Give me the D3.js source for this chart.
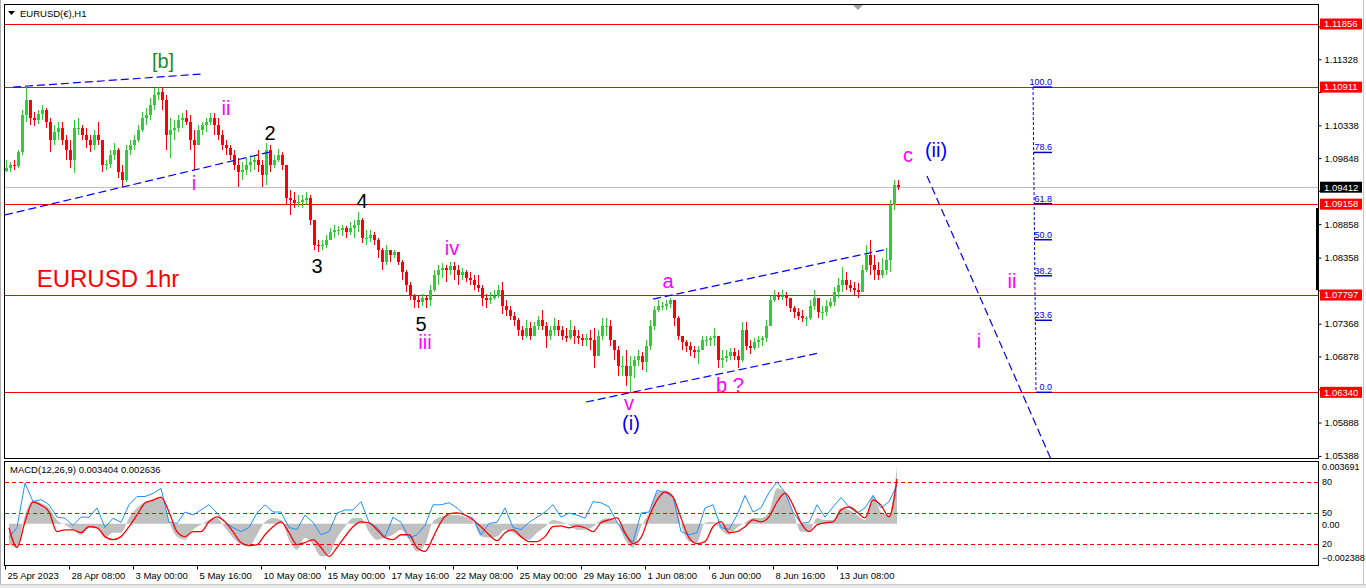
<!DOCTYPE html>
<html><head><meta charset="utf-8">
<script src="https://cdn.jsdelivr.net/npm/d3@7"></script>
<style>
html,body{margin:0;padding:0;background:#fff;overflow:hidden;}
svg{display:block;font-family:"Liberation Sans",Arial,sans-serif;}
</style></head><body>
<svg id="c" width="1366" height="588"></svg>
<script>
// ---------------- DATA ----------------
const symbolTitle = "EURUSD(€),H1";
const macdTitle = "MACD(12,26,9) 0.003404 0.002636";
const chartNote = "EURUSD 1hr";
const barsPerCandle = 4;          // each candle below aggregates 4 H1 bars
const firstOpen = 1.0966;
const highs = [
1.0982,1.0979,1.0982,1.0997,1.1057,1.1091,1.1072,1.1054,1.1057,1.1064,
1.1060,1.1045,1.1034,1.1039,1.1039,1.1019,1.1012,1.1042,1.1045,1.1034,
1.1030,1.1019,1.1027,1.1039,1.0997,1.0982,1.0997,1.1007,1.1000,1.0974,
1.1004,1.1012,1.1019,1.1034,1.1054,1.1060,1.1075,1.1090,1.1091,1.1090,
1.1079,1.1045,1.1042,1.1049,1.1052,1.1057,1.1049,1.1027,1.1034,1.1039,
1.1045,1.1052,1.1052,1.1045,1.1027,1.1012,1.1004,1.0997,1.0985,1.0979,
1.0985,1.0989,1.0989,1.0997,1.0982,1.1007,1.1004,1.0989,1.0998,1.0994,
1.0974,1.0937,1.0934,1.0929,1.0929,1.0934,1.0929,1.0892,1.0862,1.0862,
1.0869,1.0880,1.0884,1.0883,1.0884,1.0883,1.0889,1.0892,1.0904,1.0895,
1.0877,1.0877,1.0874,1.0865,1.0850,1.0854,1.0847,1.0847,1.0844,1.0832,
1.0817,1.0799,1.0782,1.0779,1.0782,1.0779,1.0794,1.0817,1.0824,1.0827,
1.0824,1.0829,1.0829,1.0824,1.0820,1.0817,1.0814,1.0809,1.0809,1.0794,
1.0782,1.0784,1.0787,1.0794,1.0799,1.0772,1.0764,1.0754,1.0745,1.0734,
1.0742,1.0739,1.0739,1.0749,1.0757,1.0739,1.0734,1.0745,1.0742,1.0734,
1.0730,1.0742,1.0734,1.0727,1.0722,1.0722,1.0727,1.0730,1.0727,1.0745,
1.0746,1.0742,1.0712,1.0704,1.0689,1.0697,1.0689,1.0689,1.0697,1.0694,
1.0712,1.0742,1.0764,1.0772,1.0769,1.0772,1.0776,1.0772,1.0749,1.0719,
1.0712,1.0709,1.0704,1.0704,1.0719,1.0719,1.0719,1.0731,1.0712,1.0697,
1.0697,1.0701,1.0700,1.0697,1.0739,1.0739,1.0712,1.0715,1.0718,1.0719,
1.0742,1.0779,1.0787,1.0784,1.0787,1.0784,1.0776,1.0764,1.0760,1.0757,
1.0749,1.0772,1.0787,1.0772,1.0764,1.0772,1.0776,1.0791,1.0805,1.0821,
1.0814,1.0802,1.0799,1.0797,1.0824,1.0854,1.0862,1.0839,1.0829,1.0835,
1.0850,1.0922,1.0952,1.0952];
const lows = [
1.0964,1.0964,1.0967,1.0970,1.0989,1.1039,1.1034,1.1033,1.1036,1.1042,
1.1030,1.0994,1.1004,1.1012,1.1004,1.0982,1.0970,1.0962,1.1019,1.1012,
1.1000,1.0994,1.0997,1.1004,1.0964,1.0967,1.0970,1.0982,1.0955,1.0941,
1.0949,1.0989,1.0997,1.1009,1.1024,1.1034,1.1042,1.1057,1.1072,1.1057,
1.0997,1.0985,1.1012,1.1024,1.1030,1.1034,1.0997,1.0967,1.1004,1.1019,
1.1024,1.1034,1.1019,1.1012,1.0997,1.0989,1.0982,1.0967,1.0941,1.0952,
1.0959,1.0964,1.0967,1.0964,1.0941,1.0944,1.0964,1.0970,1.0979,1.0967,
1.0914,1.0899,1.0910,1.0911,1.0910,1.0914,1.0884,1.0847,1.0844,1.0847,
1.0850,1.0862,1.0865,1.0869,1.0868,1.0865,1.0869,1.0865,1.0874,1.0857,
1.0854,1.0859,1.0854,1.0835,1.0817,1.0824,1.0829,1.0835,1.0824,1.0802,
1.0784,1.0772,1.0760,1.0761,1.0764,1.0760,1.0764,1.0784,1.0794,1.0805,
1.0799,1.0809,1.0802,1.0794,1.0802,1.0799,1.0794,1.0787,1.0784,1.0764,
1.0761,1.0767,1.0772,1.0775,1.0752,1.0749,1.0742,1.0734,1.0719,1.0712,
1.0715,1.0712,1.0719,1.0727,1.0727,1.0701,1.0712,1.0719,1.0719,1.0712,
1.0709,1.0712,1.0707,1.0707,1.0704,1.0704,1.0697,1.0671,1.0689,1.0712,
1.0719,1.0704,1.0682,1.0659,1.0659,1.0644,1.0634,1.0655,1.0674,1.0667,
1.0664,1.0697,1.0727,1.0754,1.0757,1.0757,1.0761,1.0734,1.0712,1.0697,
1.0694,1.0689,1.0685,1.0677,1.0697,1.0704,1.0704,1.0704,1.0671,1.0670,
1.0679,1.0682,1.0682,1.0671,1.0679,1.0697,1.0692,1.0697,1.0700,1.0704,
1.0709,1.0734,1.0769,1.0772,1.0772,1.0764,1.0754,1.0745,1.0742,1.0739,
1.0734,1.0742,1.0757,1.0745,1.0742,1.0749,1.0760,1.0764,1.0775,1.0784,
1.0787,1.0784,1.0779,1.0775,1.0784,1.0814,1.0809,1.0802,1.0802,1.0805,
1.0809,1.0814,1.0907,1.0937];
const closes = [
1.0970,1.0974,1.0973,1.0994,1.1049,1.1072,1.1045,1.1042,1.1051,1.1057,
1.1039,1.1012,1.1024,1.1030,1.1012,1.0997,1.0982,1.1030,1.1030,1.1019,
1.1012,1.1004,1.1019,1.1012,1.0974,1.0976,1.0989,1.0997,1.0964,1.0952,
1.0997,1.1004,1.1012,1.1027,1.1045,1.1049,1.1064,1.1079,1.1084,1.1072,
1.1019,1.1027,1.1030,1.1042,1.1045,1.1039,1.1012,1.1004,1.1027,1.1034,
1.1039,1.1045,1.1034,1.1019,1.1004,1.1000,1.0989,1.0974,1.0964,1.0967,
1.0974,1.0979,1.0982,1.0974,1.0959,1.0997,1.0974,1.0982,1.0989,1.0974,
1.0925,1.0922,1.0917,1.0919,1.0922,1.0925,1.0892,1.0854,1.0853,1.0854,
1.0862,1.0874,1.0877,1.0877,1.0880,1.0874,1.0880,1.0884,1.0892,1.0865,
1.0865,1.0869,1.0862,1.0847,1.0829,1.0847,1.0839,1.0844,1.0829,1.0814,
1.0794,1.0779,1.0772,1.0769,1.0775,1.0772,1.0787,1.0809,1.0817,1.0820,
1.0817,1.0823,1.0817,1.0809,1.0814,1.0805,1.0802,1.0794,1.0790,1.0775,
1.0772,1.0775,1.0779,1.0787,1.0764,1.0757,1.0749,1.0742,1.0727,1.0719,
1.0730,1.0719,1.0734,1.0742,1.0734,1.0719,1.0727,1.0734,1.0727,1.0719,
1.0715,1.0727,1.0719,1.0715,1.0712,1.0715,1.0712,1.0689,1.0719,1.0734,
1.0734,1.0712,1.0697,1.0674,1.0674,1.0659,1.0674,1.0682,1.0689,1.0679,
1.0704,1.0734,1.0757,1.0764,1.0764,1.0767,1.0772,1.0745,1.0719,1.0709,
1.0704,1.0697,1.0694,1.0697,1.0712,1.0712,1.0715,1.0719,1.0682,1.0685,
1.0689,1.0694,1.0689,1.0682,1.0727,1.0704,1.0700,1.0709,1.0712,1.0715,
1.0734,1.0772,1.0779,1.0778,1.0779,1.0775,1.0760,1.0754,1.0749,1.0745,
1.0745,1.0764,1.0775,1.0754,1.0754,1.0764,1.0769,1.0784,1.0794,1.0802,
1.0794,1.0790,1.0787,1.0784,1.0817,1.0839,1.0824,1.0817,1.0809,1.0817,
1.0832,1.0914,1.0944,1.09412];

const barsPerOsc = 8;             // oscillator samples every 8 H1 bars
const macdHist = [
-0.00122,-0.00139,0.00052,0.00139,0.00122,0.00093,0.00023,-0.00006,-0.00035,-0.00064,
-0.00017,-0.00023,-0.00081,-0.00052,-0.00052,0.00035,0.00093,0.00128,0.00139,0.00157,
0.00012,-0.00075,-0.00093,-0.00035,-0.00006,0.00023,0.00035,-0.00023,-0.00081,-0.00122,
-0.00133,-0.00064,0.00012,0.00035,0.00023,-0.00093,-0.00151,-0.00081,-0.00122,-0.00191,
-0.0018,-0.00081,-0.00017,0.00035,0.00035,-0.00046,-0.00093,-0.00081,-0.00064,-0.00035,
-0.00093,-0.00162,-0.00122,0.00012,0.00041,0.00052,0.00052,0.00041,0.00012,-0.00075,
-0.00081,-0.00075,-0.00035,-0.00052,-0.00081,-0.00093,-0.00052,-0.00017,0.00023,0.00012,
-0.00006,-0.00035,-0.00035,-0.00017,0.00023,0.00035,0.00012,-0.00093,-0.00139,-0.00017,
0.00064,0.00186,0.00197,0.00168,-0.00006,-0.00104,-0.0011,0.00006,0.00012,-0.00035,
-0.00064,-0.00023,0.00006,0.00035,0.00035,0.0007,0.00209,0.00186,0.0007,-0.00046,
-0.00046,0.00035,0.00023,0.00023,0.00093,0.00081,0.00052,0.00023,0.00168,0.0007,
0.00052,0.003404];
const macdSignal = [
-0.00023,-0.00139,0.00012,0.00128,0.0011,0.0007,-0.00046,-0.00035,-0.00035,-0.00052,
-0.00017,-0.00023,-0.00075,-0.00093,-0.00075,-0.00017,0.00052,0.00122,0.00139,0.00157,
0.0007,-0.00046,-0.00075,-0.00046,-0.00046,0.00012,0.00041,0.00012,-0.00046,-0.0011,
-0.00128,-0.00122,-0.00064,-0.00017,0.00012,-0.00052,-0.00122,-0.0011,-0.00093,-0.00139,
-0.00191,-0.00139,-0.00075,-0.00017,0.00012,0.00006,-0.00035,-0.00081,-0.00093,-0.00064,
-0.00064,-0.00139,-0.00162,-0.00081,0.00012,0.00058,0.00064,0.00052,0.00023,-0.00017,
-0.00064,-0.00099,-0.00052,-0.00035,-0.00075,-0.00104,-0.00104,-0.00075,-0.00017,-0.00012,
-0.00023,-0.00012,-0.00023,-0.00046,0.00006,0.00023,0.00035,-0.00052,-0.00116,-0.00081,
0.00041,0.00139,0.00186,0.00157,0.00035,-0.00081,-0.00116,-0.00104,-0.00017,0.00012,
-0.00052,-0.00046,-0.00017,0.00023,0.00012,0.00041,0.00128,0.0018,0.0011,0.00006,
-0.00046,-0.00006,0.00006,0.00012,0.00081,0.00099,0.0007,0.00035,0.00139,0.0011,
0.00041,0.002636];
const stochLine = [
26,36,79,61,63,58,46,45,38,46,
46,55,36,45,41,58,66,66,69,74,
41,40,51,48,53,58,50,41,36,32,
36,50,58,51,51,36,34,48,41,29,
32,50,53,53,61,41,36,27,46,41,
26,29,38,58,58,60,55,48,45,29,
40,41,55,36,34,41,46,51,58,46,
50,48,45,61,60,56,41,29,22,50,
51,72,70,66,32,29,31,55,58,36,
34,48,67,51,55,70,80,70,51,40,
41,58,46,56,65,56,50,55,67,55,
61,77];
const macdMax = 0.003691, macdMin = -0.002388;
const oscLevels = [80, 50, 20];

const timeTickBars = [0,64,128,192,256,320,384,448,512,576,640,704,768,832];
const timeTickLabels = ["25 Apr 2023","28 Apr 08:00","3 May 00:00","5 May 16:00","10 May 08:00",
  "15 May 00:00","17 May 16:00","22 May 08:00","25 May 00:00","29 May 16:00","1 Jun 08:00",
  "6 Jun 00:00","8 Jun 16:00","13 Jun 08:00"];
const priceTicks = [1.11818,1.11328,1.10838,1.10338,1.09848,1.09358,1.08858,1.08358,
  1.07868,1.07368,1.06878,1.06388,1.05888,1.05388];
const levelPrices = [1.11856,1.10911,1.09158,1.07797,1.06340];
const currentPrice = 1.09412;

// trend lines: [startBar, startPrice, endBar, endPrice]
const trendLines = [
  [8,1.10911,197,1.11107],
  [0,1.08996,265,1.09939],
  [581,1.06195,814,1.06929],
  [648,1.07737,883,1.08486],
  [922,1.0958,1050,1.0520]
];
const fibLevels = [100,78.6,61.8,50,38.2,23.6,0];
const fibHigh = 1.10911, fibLow = 1.06340;
const fibBars = [1028,1031,1047]; // top bar, bottom bar, label end bar

// wave labels
const waveText  = ["[b]","ii","i","2","4","3","5","iii","iv","a","b ?","v","(i)","c","(ii)","ii","i"];
const waveBar   = [158,221,189,265,357,312,416,420,447,663,725,624,626,903,931,1007,974];
const wavePrice = [1.11197,1.10493,1.09370,1.10119,1.09100,1.08127,1.07258,1.06995,1.08396,
                   1.07902,1.06345,1.06075,1.05775,1.09789,1.09864,1.07902,1.07004];
const waveDegree= ["cycle","minor","minor","minute","minute","minute","minute","minor","minor",
                   "minor","minor","minor","inter","minor","inter","minor","minor"];
const noteBar = 103, notePrice = 1.07917;
const scaleBarPrices = [1.0910, 1.0787];

// ---------------- STYLE ----------------
const degreeColor = {cycle:"#1f8a1f", minor:"#ff00ff", minute:"#000000", inter:"#0000ff"};
const GREEN = "#32cd32", RED = "#ff0000";

const svg = d3.select("#c");
const P = {l:5, r:1318, t:4, b:458};
const O = {t:461, b:565};

const x = d3.scaleLinear().domain([0, 1313]).range([P.l, P.r]);
const y = d3.scaleLinear().domain([1.05388, 1.11856]).range([455.9, 24]);
const yM = d3.scaleLinear().domain([macdMin, macdMax]).range([564.5, 461]);
const yS = d3.scaleLinear().domain([0, 100]).range([564.7, 461.4]);

// background & window chrome
svg.append("rect").attr("width",1366).attr("height",588).attr("fill","#fff");
svg.append("line").attr("x1",0.5).attr("x2",0.5).attr("y1",0).attr("y2",588).attr("stroke","#b0b0b0");
svg.append("rect").attr("x",0).attr("y",584).attr("width",1366).attr("height",4).attr("fill","#e8e8e8");
svg.append("line").attr("x1",0).attr("x2",1366).attr("y1",584.5).attr("y2",584.5).attr("stroke","#c8c8c8");
svg.append("line").attr("x1",1363.5).attr("x2",1363.5).attr("y1",0).attr("y2",584).attr("stroke","#c8c8c8");

svg.append("defs").html(
  `<clipPath id="cp"><rect x="${P.l}" y="${P.t}" width="${P.r-P.l}" height="${P.b-P.t}"/></clipPath>
   <clipPath id="co"><rect x="${P.l}" y="${O.t}" width="${P.r-P.l}" height="${O.b-O.t}"/></clipPath>`);

const main = svg.append("g").attr("clip-path","url(#cp)");

// horizontal level lines
main.append("line").attr("x1",P.l).attr("x2",P.r)
  .attr("y1",Math.round(y(currentPrice))+0.5).attr("y2",Math.round(y(currentPrice))+0.5)
  .attr("stroke","#c0c0c0");
main.selectAll("line.lvl").data(levelPrices).enter().append("line").attr("class","lvl")
  .attr("x1",P.l).attr("x2",P.r)
  .attr("y1",d=>Math.round(y(d))+0.5).attr("y2",d=>Math.round(y(d))+0.5)
  .attr("stroke",RED).attr("stroke-width",1);

// candles
const candles = closes.map((c,i)=>({
  i, o: i===0 ? firstOpen : closes[i-1], h: highs[i], l: lows[i], c
}));
const cg = main.append("g").attr("shape-rendering","crispEdges");
cg.selectAll("rect.w").data(candles).enter().append("rect").attr("class","w")
  .attr("x",d=>x(d.i*barsPerCandle)+1).attr("width",1)
  .attr("y",d=>y(d.h)).attr("height",d=>Math.max(1,y(d.l)-y(d.h)))
  .attr("fill",d=>d.c>=d.o?GREEN:RED);
cg.selectAll("rect.b").data(candles).enter().append("rect").attr("class","b")
  .attr("x",d=>x(d.i*barsPerCandle)).attr("width",3)
  .attr("y",d=>y(Math.max(d.o,d.c))).attr("height",d=>Math.max(1,Math.abs(y(d.o)-y(d.c))))
  .attr("fill",d=>d.c>=d.o?GREEN:RED);

// trend lines
main.selectAll("line.tl").data(trendLines).enter().append("line").attr("class","tl")
  .attr("x1",d=>x(d[0])).attr("y1",d=>y(d[1])).attr("x2",d=>x(d[2])).attr("y2",d=>y(d[3]))
  .attr("stroke","#0000ff").attr("stroke-width",1.2).attr("stroke-dasharray","8,4");

// fibonacci
const fibPrice = lv => fibLow + (fibHigh-fibLow)*lv/100;
const fibBarAt = lv => fibBars[0] + (fibBars[1]-fibBars[0])*(1-lv/100);
main.append("line").attr("x1",x(fibBars[0])).attr("y1",y(fibHigh)).attr("x2",x(fibBars[1])).attr("y2",y(fibLow))
  .attr("stroke","#0000cd").attr("stroke-dasharray","3,2");
const fg = main.append("g");
fg.selectAll("line").data(fibLevels).enter().append("line")
  .attr("x1",d=>x(fibBarAt(d))).attr("x2",x(fibBars[2]))
  .attr("y1",d=>y(fibPrice(d))).attr("y2",d=>y(fibPrice(d)))
  .attr("stroke","#0000cd").attr("stroke-width",1.5);
fg.selectAll("text").data(fibLevels).enter().append("text")
  .attr("x",x(fibBars[2])).attr("y",d=>y(fibPrice(d))-2)
  .attr("text-anchor","end").attr("font-size",9).attr("fill","#0000cd")
  .text(d=>d3.format(".1f")(d));

// wave labels
main.selectAll("text.wv").data(waveText).enter().append("text").attr("class","wv")
  .attr("x",(d,i)=>x(waveBar[i])).attr("y",(d,i)=>y(wavePrice[i]))
  .attr("text-anchor","middle").attr("font-size",20)
  .attr("fill",(d,i)=>degreeColor[waveDegree[i]]).text(d=>d);
main.append("text").attr("x",x(noteBar)).attr("y",y(notePrice)).attr("text-anchor","middle")
  .attr("font-size",24).attr("fill",RED).text(chartNote);

// chart-shift marker
svg.append("path").attr("d",`M${x(853)-5},${P.t+1}h10l-5,5z`).attr("fill","#a0a0a0");

// header
svg.append("path").attr("d","M8,11h7l-3.5,4z").attr("fill","#000");
svg.append("text").attr("x",20).attr("y",17).attr("font-size",9.5).attr("fill","#000").text(symbolTitle);

// ---------------- oscillator panel ----------------
const og = svg.append("g").attr("clip-path","url(#co)");
const oscX = (d,i)=>x(i*barsPerOsc + barsPerOsc/2);
og.append("path").datum(macdHist)
  .attr("d", d3.area().x(oscX).y0(yM(0)).y1(d=>yM(d)).curve(d3.curveMonotoneX))
  .attr("fill","#c0c0c0");
og.selectAll("line.lv").data(oscLevels).enter().append("line").attr("class","lv")
  .attr("x1",P.l).attr("x2",P.r).attr("y1",d=>Math.round(yS(d))+0.5).attr("y2",d=>Math.round(yS(d))+0.5)
  .attr("stroke",RED).attr("stroke-dasharray","4,3");
og.append("path").datum(stochLine)
  .attr("d", d3.line().x(oscX).y(d=>yS(d)))
  .attr("fill","none").attr("stroke","#1e90ff").attr("stroke-width",1);
og.append("path").datum(macdSignal)
  .attr("d", d3.line().x(oscX).y(d=>yM(d)).curve(d3.curveMonotoneX))
  .attr("fill","none").attr("stroke",RED).attr("stroke-width",1.3);
svg.append("text").attr("x",10).attr("y",473).attr("font-size",9.5).attr("fill","#000").text(macdTitle);

// frames
svg.append("rect").attr("x",P.l-0.5).attr("y",P.t+0.5).attr("width",P.r-P.l+1).attr("height",P.b-P.t)
  .attr("fill","none").attr("stroke","#000");
svg.append("rect").attr("x",P.l-0.5).attr("y",O.t+0.5).attr("width",P.r-P.l+1).attr("height",O.b-O.t)
  .attr("fill","none").attr("stroke","#000");
svg.append("rect").attr("x",P.r-2).attr("y",y(scaleBarPrices[0])).attr("width",3)
  .attr("height",y(scaleBarPrices[1])-y(scaleBarPrices[0])).attr("fill","#000");

// price axis (labels hidden where a level box covers them, as in the terminal)
const boxes = levelPrices.map(p=>({p, bg:RED})).concat([{p:currentPrice,bg:"#000"}]);
const covered = t => boxes.some(b => Math.abs(y(b.p)-y(t)) < 9);
const ya = svg.append("g").attr("transform",`translate(${P.r+0.5},0)`)
  .call(d3.axisRight(y).tickValues(priceTicks).tickSize(3)
    .tickFormat(t => covered(t) ? "" : d3.format(".5f")(t)));
ya.select(".domain").remove();
ya.selectAll("text").attr("font-family","Liberation Sans, Arial, sans-serif").attr("font-size",9.5).attr("x",6).attr("fill","#000");
ya.selectAll("line").attr("stroke","#000");

// level price boxes
const bg = svg.append("g");
bg.selectAll("rect").data(boxes).enter().append("rect")
  .attr("x",P.r+2).attr("width",42).attr("y",d=>y(d.p)-5.5).attr("height",11).attr("fill",d=>d.bg);
bg.selectAll("text").data(boxes).enter().append("text")
  .attr("x",P.r+6).attr("y",d=>y(d.p)).attr("dy","0.35em").attr("font-size",9.5).attr("fill","#fff")
  .text(d=>d3.format(".5f")(d.p));

// oscillator axis labels
const oscLabels = [
  {t:d3.format(".6f")(macdMax), yv: yM(macdMax)},
  ...oscLevels.map(v=>({t:String(v), yv:yS(v)})),
  {t:"0.00", yv:yM(0)+1},
  {t:d3.format(".6f")(macdMin), yv:yM(macdMin)}
];
svg.selectAll("text.ol").data(oscLabels).enter().append("text").attr("class","ol")
  .attr("x",P.r+4).attr("y",d=>Math.min(558,Math.max(467,d.yv))).attr("dy","0.35em")
  .attr("font-size",9).attr("fill","#000").text(d=>d.t);

// time axis
const xa = svg.append("g").attr("transform",`translate(0,${O.b+0.5})`)
  .call(d3.axisBottom(x).tickValues(timeTickBars).tickSize(4).tickFormat((d,i)=>timeTickLabels[i]));
xa.select(".domain").remove();
xa.selectAll("line").attr("stroke","#000");
xa.selectAll("text").attr("font-family","Liberation Sans, Arial, sans-serif").attr("font-size",9.5)
  .attr("text-anchor","start").attr("x",2).attr("fill","#000");
</script>
</body></html>
